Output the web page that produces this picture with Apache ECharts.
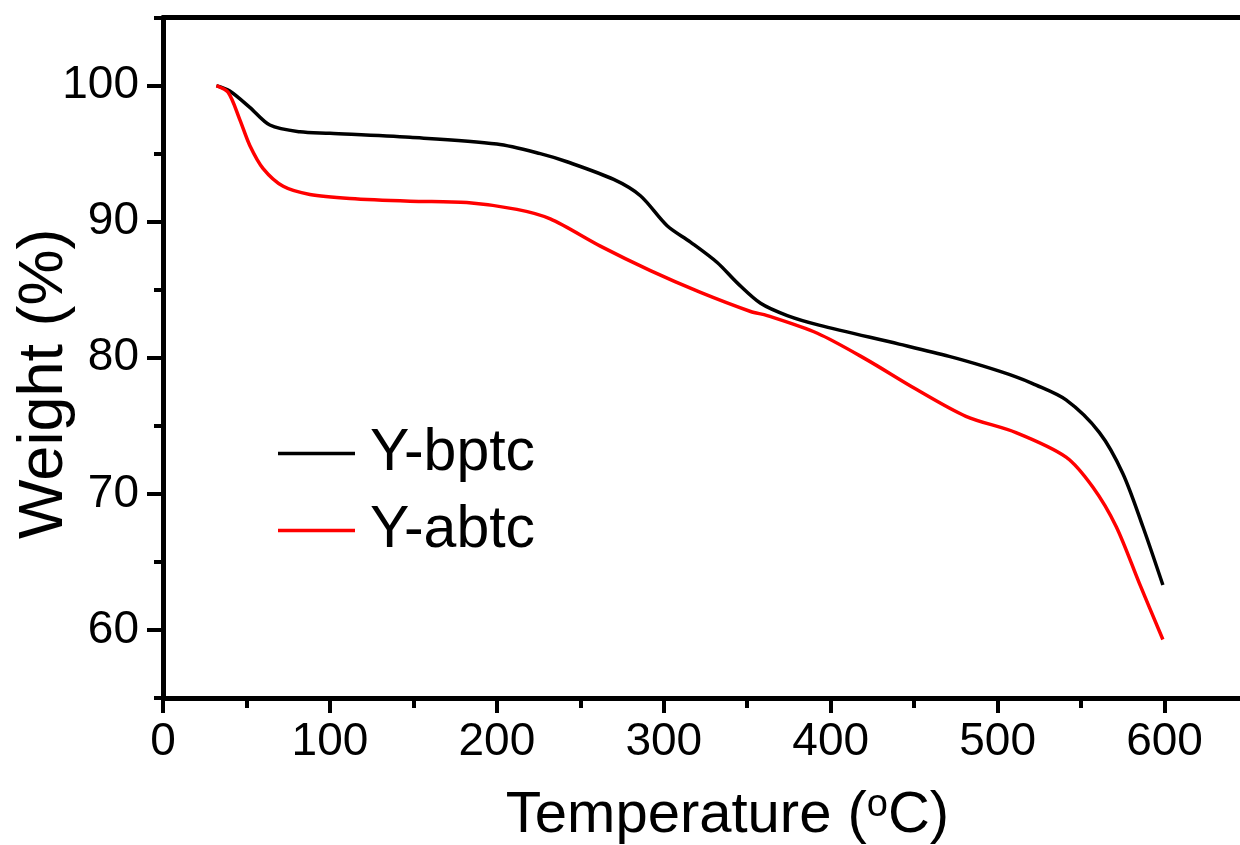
<!DOCTYPE html>
<html>
<head>
<meta charset="utf-8">
<script src="https://cdn.jsdelivr.net/npm/echarts@6/dist/echarts.min.js"></script>
<style>html,body{margin:0;padding:0;background:#fff;}#c{width:1240px;height:845px;}</style>
</head>
<body>
<div id="c"></div>
<script>
const seriesNames = ['Y-bptc', 'Y-abtc'];
const bptcTemp = [32, 40, 52, 64, 82, 100, 148, 200, 226, 242, 270, 286, 302, 316, 332, 344, 358, 374, 393, 441, 471, 491, 511, 521, 541, 561, 575, 587, 599];
const bptcWeight = [100, 99.6, 98.4, 97.1, 96.6, 96.5, 96.2, 95.7, 95.0, 94.4, 93.1, 91.9, 89.7, 88.5, 87.0, 85.5, 84.0, 83.1, 82.4, 81.0, 80.1, 79.4, 78.6, 78.1, 76.9, 74.5, 71.5, 67.6, 63.3];
const abtcTemp = [32, 39, 46, 52, 60, 72, 88, 112, 148, 182, 212, 232, 262, 292, 322, 352, 362, 392, 421, 451, 481, 511, 541, 557, 571, 585, 599];
const abtcWeight = [100, 99.5, 97.5, 95.6, 93.9, 92.6, 92.0, 91.7, 91.5, 91.4, 90.9, 90.2, 88.2, 86.4, 84.8, 83.4, 83.1, 81.8, 79.9, 77.7, 75.7, 74.5, 72.7, 70.5, 67.6, 63.4, 59.3];
const xMajorTicks = [0, 100, 200, 300, 400, 500, 600];
const xMinorTicks = [50, 150, 250, 350, 450, 550];
const yMajorTicks = [60, 70, 80, 90, 100];
const yMinorTicks = [55, 65, 75, 85, 95, 105];

const zip = (xs, ys) => xs.map((x, i) => [x, ys[i]]);
const FONT = "'Liberation Sans', Arial, sans-serif";
const chart = echarts.init(document.getElementById('c'), null, {renderer: 'canvas'});
const axisLine = {show: true, lineStyle: {color: '#000', width: 5}};

chart.setOption({
  backgroundColor: '#fff',
  animation: false,
  grid: {left: 163, top: 17.5, width: 1085, height: 680.5, containLabel: false, outerBoundsMode: 'none'},
  legend: {
    orient: 'vertical', left: 278, top: 424, padding: 0, itemWidth: 77, itemHeight: 3.5, itemGap: 18,
    icon: 'rect',
    textStyle: {fontFamily: FONT, fontSize: 59, color: '#000', lineHeight: 54, padding: [0, 0, 0, 10]},
    data: seriesNames
  },
  xAxis: [
    {
      type: 'value', position: 'bottom', min: 0, max: 650,
      axisLine: axisLine,
      axisTick: {show: true, customValues: xMajorTicks, length: 15, lineStyle: {color: '#000', width: 4}},
      axisLabel: {show: true, customValues: xMajorTicks, margin: 21, fontFamily: FONT, fontSize: 46, color: '#000'},
      splitLine: {show: false},
      name: 'Temperature ({s|o}C)', nameLocation: 'middle', nameGap: 89, nameMoveOverlap: false,
      nameTextStyle: {fontFamily: FONT, fontSize: 58, color: '#000', padding: [0, 0, 0, 44],
        rich: {s: {fontFamily: FONT, fontSize: 38, color: '#000', verticalAlign: 'top', padding: [0, 0, 6, 0]}}}
    },
    {
      type: 'value', position: 'bottom', min: 0, max: 650,
      axisLine: {show: false},
      axisTick: {show: true, customValues: xMinorTicks, length: 10, lineStyle: {color: '#000', width: 4}},
      axisLabel: {show: false}, splitLine: {show: false}
    },
    {
      type: 'value', position: 'top', min: 0, max: 650,
      axisLine: axisLine, axisTick: {show: false}, axisLabel: {show: false}, splitLine: {show: false}
    }
  ],
  yAxis: [
    {
      type: 'value', position: 'left', min: 55, max: 105,
      axisLine: axisLine,
      axisTick: {show: true, customValues: yMajorTicks, length: 16, lineStyle: {color: '#000', width: 4}},
      axisLabel: {show: true, customValues: yMajorTicks, margin: 24, fontFamily: FONT, fontSize: 46, color: '#000'},
      splitLine: {show: false},
      name: 'Weight (%)', nameLocation: 'middle', nameGap: 87, nameRotate: 90, nameMoveOverlap: false,
      nameTextStyle: {fontFamily: FONT, fontSize: 63, color: '#000', padding: [0, 52, 0, 0]}
    },
    {
      type: 'value', position: 'left', min: 55, max: 105,
      axisLine: {show: false},
      axisTick: {show: true, customValues: yMinorTicks, length: 9, lineStyle: {color: '#000', width: 4}},
      axisLabel: {show: false}, splitLine: {show: false}
    }
  ],
  series: [
    {
      name: seriesNames[0], type: 'line', xAxisIndex: 0, yAxisIndex: 0,
      data: zip(bptcTemp, bptcWeight), smooth: 0.3, symbol: 'none',
      lineStyle: {color: '#000', width: 3.5}, itemStyle: {color: '#000'}
    },
    {
      name: seriesNames[1], type: 'line', xAxisIndex: 0, yAxisIndex: 0,
      data: zip(abtcTemp, abtcWeight), smooth: 0.3, symbol: 'none',
      lineStyle: {color: '#ff0000', width: 3.5}, itemStyle: {color: '#ff0000'}
    }
  ]
});
</script>
</body>
</html>
